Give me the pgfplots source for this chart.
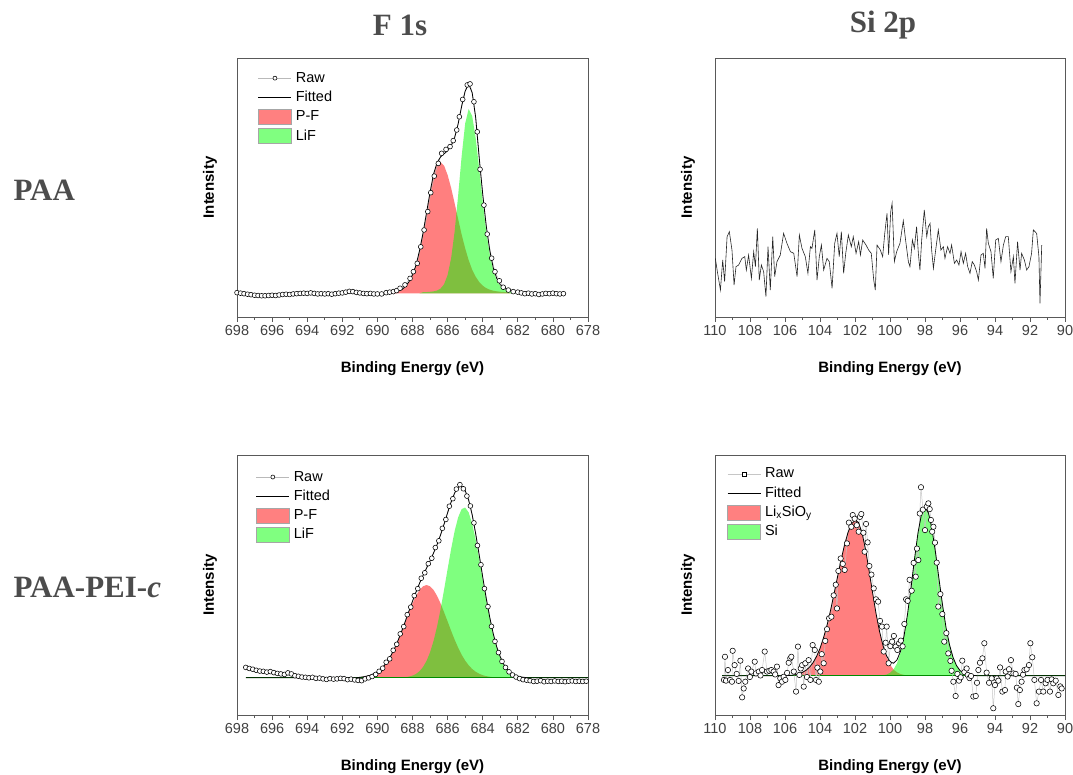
\documentclass[border=0pt]{standalone}
\usepackage{pgfplots}
\pgfplotsset{compat=1.18}
\usepackage{fontspec}
\setmainfont{Liberation Sans}
\newfontfamily\titlefont{Liberation Serif}
\definecolor{axgray}{gray}{0.35}
\definecolor{txtgray}{gray}{0.25}
\definecolor{ttlgray}{gray}{0.3}

\pgfplotsset{
  xpsbase/.style={
    scale only axis, width=351pt, height=259pt,
    x dir=reverse, ymin=0, ymax=100, ytick=\empty,
    axis line style={axgray, line width=0.8pt},
    tick style={axgray, line width=0.8pt},
    tick align=outside, xtick pos=left,
    minor x tick num=1,
    major tick length=5pt, minor tick length=3pt,
    tick label style={font=\fontsize{14.5}{16}\selectfont, text=txtgray},
    /pgf/number format/assume math mode=true,
    /pgf/number format/1000 sep={},
    xlabel={Binding Energy (eV)}, ylabel={Intensity},
    xlabel style={font=\bfseries\fontsize{15}{17}\selectfont, at={(axis description cs:0.5,-0.2)}, anchor=center},
    ylabel style={font=\bfseries\fontsize{15}{17}\selectfont, at={(axis description cs:-0.077,0.5)}, anchor=center},
    legend cell align=left,
    legend style={draw=none, fill=none, inner sep=0pt, outer sep=0pt, row sep=2.3pt,
      font=\fontsize{14.5}{16}\selectfont,
      nodes={inner xsep=4pt, inner ysep=1.5pt, text height=11pt, text depth=3pt}},
  },
  f1s/.style={xpsbase, xmin=678, xmax=698, xtick={678,680,...,698}},
  si2p/.style={xpsbase, xmin=90, xmax=110, xtick={90,92,...,110}},
  rawline/.style={draw=gray!55, line width=0.5pt, mark=*, mark size=2.4pt, mark options={draw=black, fill=white, line width=0.55pt}},
  fitline/.style={black, line width=0.8pt},
  linelegend/.style={legend image code/.code={\draw[##1, mark indices={2}] plot coordinates {(0pt,0pt) (16.5pt,0pt) (33pt,0pt)};}},
  boxlegend/.style={legend image code/.code={\draw[##1] (0pt,-7.5pt) rectangle (33pt,7.5pt);}},
}

\begin{document}
\begin{tikzpicture}
\path[use as bounding box] (0pt,0pt) rectangle (1073pt,774pt);

% ---------------- Top left: F 1s, PAA ----------------
\begin{axis}[f1s, at={(237pt,457pt)}, anchor=south west,
  legend style={at={(axis description cs:0.06,0.955)}, anchor=north west}]
\addplot[forget plot, draw=none, fill=red, fill opacity=0.5] coordinates {
(689.6,9.15) (689.4,9.59) (689.2,9.68) (689.0,9.84) (688.8,10.12) (688.6,10.64) (688.4,11.58) (688.2,13.2)
(688.0,15.82) (687.8,19.75) (687.6,25.25) (687.4,32.05) (687.2,39.95) (687.0,47.95) (686.8,54.75) (686.6,59.05)
(686.45,60.15) (686.2,58.45) (686.0,54.85) (685.8,49.85) (685.6,43.95) (685.4,37.85) (685.2,31.85) (685.0,26.55)
(684.8,21.95) (684.6,18.25) (684.4,15.55) (684.2,13.5) (684.0,12.09) (683.8,11.15) (683.6,10.54) (683.4,10.15)
(683.2,9.91) (683.0,9.76) (682.8,9.66) (682.6,9.59) (682.4,9.15)} -- cycle;
\addplot[forget plot, draw=none, fill=green, fill opacity=0.5] coordinates {
(687.6,9.15) (687.4,9.56) (687.2,9.63) (687.0,9.73) (686.8,9.89) (686.6,10.22) (686.4,10.97) (686.2,12.66)
(686.0,16.19) (685.8,22.65) (685.6,32.95) (685.4,46.85) (685.2,62.05) (685.0,74.65) (684.8,80.35) (684.6,77.65)
(684.4,69.15) (684.2,57.25) (684.0,44.55) (683.8,33.15) (683.6,24.25) (683.4,18.05) (683.2,14.15) (683.0,11.95)
(682.8,10.81) (682.6,10.23) (682.4,9.93) (682.2,9.78) (682.0,9.15)} -- cycle;
\addplot[forget plot, rawline] coordinates {
(698.0,9.4) (697.8,9.2) (697.6,9.0) (697.4,8.8) (697.2,8.6) (697.0,8.4) (696.8,8.3) (696.6,8.2) (696.4,8.2)
(696.2,8.3) (696.0,8.4) (695.8,8.3) (695.6,8.5) (695.4,8.7) (695.2,8.8) (695.0,8.7) (694.8,8.9) (694.6,9.0)
(694.4,9.1) (694.2,9.2) (694.0,9.1) (693.8,9.3) (693.6,9.1) (693.4,8.9) (693.2,9.0) (693.0,8.9) (692.8,9.0)
(692.6,8.8) (692.4,9.0) (692.2,9.2) (692.0,9.3) (691.8,9.6) (691.6,9.9) (691.4,9.8) (691.2,9.5) (691.0,9.3)
(690.8,9.1) (690.6,9.0) (690.4,9.1) (690.2,8.9) (690.0,8.9) (689.76,8.9) (689.5,9.4) (689.3,9.6) (689.09,9.8)
(688.9,10.2) (688.71,11.1) (688.43,12.4) (688.14,14.9) (687.95,17.5) (687.73,20.7) (687.53,27.1) (687.34,33.6)
(687.13,40.7) (686.96,48.0) (686.76,54.4) (686.53,59.3) (686.34,63.2) (686.09,64.7) (685.86,65.8) (685.68,68.1)
(685.48,72.2) (685.33,77.3) (685.14,84.0) (684.88,89.6) (684.72,90.0) (684.50,83.1) (684.31,71.5) (684.15,57.0)
(683.93,43.2) (683.74,32.0) (683.49,22.7) (683.30,17.5) (683.05,14.0) (682.83,11.5) (682.54,10.4) (682.26,9.8)
(682.0,9.6) (681.8,9.3) (681.6,9.0) (681.4,9.2) (681.2,8.9) (681.0,9.0) (680.8,8.7) (680.6,8.9) (680.4,9.1)
(680.2,9.0) (680.0,9.2) (679.8,9.0) (679.6,8.9) (679.4,9.0)};
\addplot[forget plot, fitline] coordinates {
(689.6,9.5) (689.4,9.6) (689.2,9.7) (689.0,9.8) (688.8,10.1) (688.6,10.6) (688.4,11.8) (688.2,13.6) (688.0,16.2)
(687.8,20.0) (687.6,25.6) (687.4,32.4) (687.2,40.3) (687.0,48.2) (686.8,55.2) (686.6,59.6) (686.4,61.8) (686.2,63.0)
(686.0,64.2) (685.8,66.0) (685.6,69.2) (685.4,74.5) (685.2,81.3) (685.0,87.2) (684.8,90.0) (684.6,86.6) (684.4,77.0)
(684.2,61.6) (684.0,47.5) (683.8,35.3) (683.6,25.8) (683.4,19.0) (683.2,14.9) (683.0,12.5) (682.8,11.2) (682.6,10.5)
(682.4,10.0) (682.2,9.7)};
\addlegendimage{linelegend, rawline, mark size=2pt}
\addlegendentry{Raw}
\addlegendimage{linelegend, fitline}
\addlegendentry{Fitted}
\addlegendimage{boxlegend, fill=red!50, draw=gray!70}
\addlegendentry{P-F}
\addlegendimage{boxlegend, fill=green!50, draw=gray!70}
\addlegendentry{LiF}
\end{axis}

% ---------------- Top right: Si 2p, PAA ----------------
\begin{axis}[si2p, width=350pt, at={(715pt,457pt)}, anchor=south west]
\addplot[black!85, line width=0.6pt] coordinates {
(109.98,22.65) (109.88,18.14) (109.69,10.42) (109.56,22.0) (109.45,13.64) (109.31,31.0) (109.18,32.94)
(109.03,25.86) (108.91,12.35) (108.8,19.43) (108.65,20.07) (108.46,22.65) (108.3,23.29) (108.21,18.14)
(108.08,23.93) (107.92,14.92) (107.79,25.22) (107.69,19.43) (107.58,34.23) (107.47,14.28) (107.35,20.07)
(107.22,17.5) (107.09,7.85) (106.97,27.15) (106.84,10.42) (106.7,31.0) (106.59,15.57) (106.46,21.36)
(106.27,23.93) (106.08,32.3) (105.89,28.44) (105.69,25.22) (105.5,24.58) (105.31,15.57) (105.18,31.65)
(105.03,26.5) (104.84,23.29) (104.69,16.86) (104.55,27.15) (104.46,26.5) (104.3,33.59) (104.17,14.28)
(104.04,23.29) (103.92,27.79) (103.79,18.14) (103.6,22.65) (103.47,21.36) (103.31,11.06) (103.16,28.44)
(103.03,32.3) (102.9,23.29) (102.78,32.94) (102.65,16.86) (102.53,24.58) (102.38,31.65) (102.21,27.15)
(102.1,31.0) (101.94,24.58) (101.79,29.08) (101.69,23.93) (101.56,29.72) (101.37,27.79) (101.22,25.86)
(101.07,24.58) (100.93,14.28) (100.84,10.42) (100.74,27.79) (100.55,25.86) (100.42,23.29) (100.3,32.3)
(100.17,40.0) (100.08,24.0) (99.96,40.6) (99.88,43.9) (99.75,21.4) (99.62,25.22) (99.43,28.44) (99.24,37.19)
(99.11,29.72) (98.95,21.36) (98.86,19.43) (98.72,29.72) (98.61,26.51) (98.48,34.87) (98.38,24.58) (98.29,18.14)
(98.19,29.72) (98.04,41.31) (97.9,31.01) (97.81,34.87) (97.71,36.16) (97.62,25.86) (97.52,18.79) (97.39,25.86)
(97.24,33.59) (97.09,25.86) (96.95,27.15) (96.86,22.65) (96.71,27.15) (96.57,24.58) (96.48,27.79) (96.32,20.72)
(96.19,22.0) (96.06,20.07) (95.94,25.22) (95.81,20.72) (95.68,24.58) (95.56,19.43) (95.43,16.86) (95.3,21.36)
(95.18,20.07) (95.05,17.5) (94.95,14.28) (94.8,23.93) (94.67,24.58) (94.57,18.79) (94.48,34.23) (94.38,28.44)
(94.23,25.22) (94.1,14.92) (93.96,29.72) (93.81,30.37) (93.66,21.36) (93.52,27.79) (93.39,31.01) (93.24,31.01)
(93.09,17.5) (92.95,23.29) (92.86,13.0) (92.71,29.08) (92.57,18.14) (92.48,24.58) (92.32,22.0) (92.19,18.14)
(92.06,19.43) (91.91,24.58) (91.81,33.59) (91.62,32.3) (91.49,23.29) (91.43,5.27) (91.33,27.79)};
\end{axis}

% ---------------- Bottom left: F 1s, PAA-PEI-c ----------------
\begin{axis}[f1s, height=260pt, at={(237pt,59pt)}, anchor=south west,
  legend style={at={(axis description cs:0.054,0.948)}, anchor=north west}]
\addplot[forget plot, draw=none, fill=red, fill opacity=0.5] coordinates {
(691.2,14.3) (691.0,14.54) (690.8,14.7) (690.6,14.95) (690.4,15.32) (690.2,15.87) (690.0,16.65) (689.8,17.71)
(689.6,19.13) (689.4,20.94) (689.2,23.2) (689.0,25.9) (688.8,29.0) (688.6,32.4) (688.4,36.0) (688.2,39.5)
(688.0,42.9) (687.8,45.8) (687.6,48.1) (687.4,49.5) (687.2,50.0) (687.0,49.5) (686.8,48.1) (686.6,45.8)
(686.4,42.9) (686.2,39.5) (686.0,36.0) (685.8,32.4) (685.6,29.0) (685.4,25.9) (685.2,23.2) (685.0,20.94)
(684.8,19.13) (684.6,17.71) (684.4,16.65) (684.2,15.87) (684.0,15.32) (683.8,14.95) (683.6,14.7) (683.4,14.54)
(683.2,14.44) (683.0,14.3)} -- cycle;
\addplot[forget plot, draw=none, fill=green, fill opacity=0.5] coordinates {
(688.8,14.3) (688.6,14.42) (688.4,14.54) (688.2,14.76) (688.0,15.15) (687.8,15.8) (687.6,16.85) (687.4,18.45)
(687.2,20.81) (687.0,24.1) (686.8,28.5) (686.6,34.0) (686.4,40.7) (686.2,48.2) (686.0,56.1) (685.8,63.8)
(685.6,70.7) (685.4,76.0) (685.2,79.2) (685.0,79.8) (684.8,77.9) (684.6,73.6) (684.4,67.4) (684.2,60.0)
(684.0,52.1) (683.8,44.3) (683.6,37.2) (683.4,31.1) (683.2,26.1) (683.0,22.33) (682.8,19.52) (682.6,17.57)
(682.4,16.26) (682.2,15.43) (682.0,14.93) (681.8,14.63) (681.6,14.47) (681.4,14.3)} -- cycle;
\addplot[forget plot, green!55!black, line width=0.7pt] coordinates {(697.5,14.3) (678,14.3)};
\addplot[forget plot, rawline] coordinates {
(697.5,18.3) (697.3,17.9) (697.1,17.6) (696.9,17.2) (696.7,16.9) (696.5,16.8) (696.3,16.5) (696.1,16.7)
(695.9,16.3) (695.7,16.0) (695.5,15.8) (695.3,15.6) (695.1,16.2) (694.9,15.8) (694.7,15.1) (694.5,14.9)
(694.3,14.6) (694.1,14.5) (693.9,14.3) (693.7,14.5) (693.5,14.1) (693.3,14.2) (693.1,13.9) (692.9,13.7)
(692.7,14.0) (692.5,13.8) (692.3,13.9) (692.1,14.1) (691.9,14.0) (691.7,13.6) (691.5,13.8) (691.3,13.5)
(691.1,13.3) (690.9,13.2) (690.7,13.9) (690.5,14.3) (690.3,14.8) (690.1,15.6) (689.9,16.8)
(689.7,18.0) (689.5,20.3) (689.3,21.6) (689.1,24.9) (688.9,27.2) (688.7,31.2) (688.5,34.0) (688.3,38.6)
(688.1,41.5) (687.9,45.9) (687.7,48.6) (687.5,52.6) (687.3,54.7) (687.1,58.2) (686.9,60.3) (686.7,64.4)
(686.5,67.0) (686.3,71.8) (686.1,75.2) (685.9,80.3) (685.7,83.2) (685.5,86.9) (685.3,88.6) (685.1,87.0)
(684.9,84.2) (684.7,80.4) (684.5,73.9) (684.3,65.2) (684.1,57.8) (683.9,48.6) (683.7,41.7) (683.5,34.1)
(683.3,28.3) (683.1,24.0) (682.9,20.6) (682.7,18.3) (682.5,16.6) (682.3,15.4) (682.1,14.6) (681.9,14.0)
(681.7,13.6) (681.5,13.4) (681.3,13.2) (681.1,12.9) (680.9,13.0) (680.7,13.2) (680.5,12.8) (680.3,13.0)
(680.1,12.9) (679.9,13.1) (679.7,12.9) (679.5,13.0) (679.3,12.8) (679.1,13.0) (678.9,13.1) (678.7,12.9)
(678.5,13.0) (678.3,12.9) (678.1,13.0)};
\addplot[forget plot, fitline] coordinates {
(697.5,14.3) (691.2,14.3) (691.0,14.5) (690.8,14.7) (690.6,14.95) (690.4,15.3) (690.2,15.9) (690.0,16.65)
(689.8,17.7) (689.6,19.1) (689.4,20.9) (689.2,23.2) (689.0,25.9) (688.8,29.05) (688.6,32.5) (688.4,36.2)
(688.2,40.0) (688.0,43.75) (687.8,47.3) (687.6,50.65) (687.4,53.65) (687.2,56.5) (687.0,59.3) (686.8,62.3)
(686.6,65.5) (686.4,69.3) (686.2,73.4) (686.0,77.8) (685.8,81.9) (685.6,85.4) (685.4,87.6) (685.2,88.1)
(685.0,86.4) (684.8,82.7) (684.6,77.0) (684.4,69.75) (684.2,61.6) (684.0,53.1) (683.8,44.95) (683.6,37.6)
(683.4,31.3) (683.2,26.2) (683.0,22.4) (682.8,19.5) (682.6,17.6) (682.4,16.3) (682.2,15.4) (682.0,14.9)
(681.8,14.6) (681.6,14.45) (681.4,14.3) (678.0,14.3)};
\addlegendimage{linelegend, rawline, mark size=2pt}
\addlegendentry{Raw}
\addlegendimage{linelegend, fitline}
\addlegendentry{Fitted}
\addlegendimage{boxlegend, fill=red!50, draw=gray!70}
\addlegendentry{P-F}
\addlegendimage{boxlegend, fill=green!50, draw=gray!70}
\addlegendentry{LiF}
\end{axis}

% ---------------- Bottom right: Si 2p, PAA-PEI-c ----------------
\begin{axis}[si2p, width=350pt, height=260pt, at={(715pt,59pt)}, anchor=south west,
  legend style={at={(axis description cs:0.035,0.96)}, anchor=north west}]
\addplot[forget plot, draw=none, fill=red, fill opacity=0.5] coordinates {
(106.2,15.1) (106.0,15.17) (105.8,15.23) (105.6,15.34) (105.4,15.54) (105.2,15.86) (105.0,16.39) (104.8,17.19)
(104.6,18.4) (104.4,20.1) (104.2,22.5) (104.0,25.6) (103.8,29.7) (103.6,34.5) (103.4,40.2) (103.2,46.5)
(103.0,53.1) (102.8,59.5) (102.6,65.4) (102.4,70.2) (102.2,73.5) (102.0,74.9) (101.8,74.1) (101.6,70.1)
(101.4,63.7) (101.2,55.7) (101.0,47.2) (100.8,39.1) (100.6,32.1) (100.4,26.5) (100.2,22.3) (100.0,19.4)
(99.8,17.5) (99.6,16.4) (99.4,15.77) (99.2,15.42) (99.0,15.25) (98.8,15.16) (98.6,15.1)} -- cycle;
\addplot[forget plot, draw=none, fill=green, fill opacity=0.5] coordinates {
(100.8,15.1) (100.6,15.16) (100.4,15.28) (100.2,15.56) (100.0,16.2) (99.8,17.48) (99.6,19.86) (99.4,23.87)
(99.2,30.0) (99.0,38.5) (98.8,48.8) (98.6,60.0) (98.4,70.1) (98.2,77.3) (98.0,79.9) (97.8,77.7) (97.6,71.5)
(97.4,62.5) (97.2,52.3) (97.0,42.4) (96.8,33.7) (96.6,27.0) (96.4,22.16) (96.2,19.02) (96.0,17.13) (95.8,16.08)
(95.6,15.54) (95.4,15.29) (95.2,15.17) (95.0,15.1)} -- cycle;
\addplot[forget plot, green!55!black, line width=0.7pt] coordinates {(109.6,15.1) (90,15.1)};
\addplot[forget plot, rawline, draw=gray!45, mark size=2.7pt] coordinates {
(109.49,13.5) (109.43,22.4) (109.37,13.2) (109.26,17.3) (109.14,13.5) (109.03,12.8) (108.99,24.7) (108.88,19.2)
(108.76,15.8) (108.65,13.1) (108.55,20.9) (108.45,6.8) (108.36,10.2) (108.27,12.8) (108.11,17.9) (108.01,14.6)
(107.92,16.7) (107.73,20.5) (107.66,16.0) (107.5,16.7) (107.4,15.2) (107.31,17.3) (107.16,24.4) (107.03,16.7)
(106.9,17.0) (106.78,17.3) (106.65,16.7) (106.56,15.6) (106.46,18.6) (106.37,11.5) (106.27,14.1) (106.17,12.8)
(106.08,14.7) (105.98,13.5) (105.88,16.2) (105.79,20.1) (105.7,21.8) (105.64,22.4) (105.5,16.7) (105.37,9.0)
(105.26,26.3) (105.18,15.4) (105.1,17.9) (105.02,19.2) (104.93,10.9) (104.84,19.9) (104.75,14.6) (104.65,21.1)
(104.55,13.5) (104.42,26.9) (104.3,25.0) (104.23,13.5) (104.15,18.2) (104.07,12.8) (103.98,16.7) (103.9,23.4)
(103.79,19.9) (103.7,28.5) (103.6,33.0) (103.48,37.2) (103.35,37.8) (103.22,46.0) (103.1,50.1) (103.03,41.0)
(102.95,55.4) (102.82,60.2) (102.7,58.1) (102.59,55.8) (102.46,66.0) (102.35,74.0) (102.21,72.4) (102.13,76.9)
(102.02,75.5) (101.9,73.0) (101.79,70.5) (101.72,76.2) (101.64,77.3) (101.52,70.1) (101.45,62.8) (101.37,73.5)
(101.28,66.4) (101.18,57.3) (101.06,54.0) (100.93,48.7) (100.8,44.5) (100.68,43.6) (100.57,36.2) (100.46,34.0)
(100.36,24.4) (100.25,27.8) (100.19,34.0) (100.08,19.9) (99.98,26.5) (99.88,28.2) (99.78,30.4) (99.68,26.3)
(99.58,25.0) (99.48,27.6) (99.38,28.6) (99.28,26.4) (99.18,35.0) (99.08,44.5) (98.99,43.9) (98.88,52.0)
(98.76,47.8) (98.65,58.5) (98.53,53.2) (98.46,64.0) (98.38,59.6) (98.3,77.5) (98.23,87.6) (98.12,79.0)
(98.0,71.1) (97.9,80.1) (97.81,81.4) (97.73,79.2) (97.66,75.0) (97.59,70.5) (97.52,72.4) (97.43,66.3)
(97.33,58.6) (97.24,41.7) (97.12,46.5) (97.01,38.8) (96.9,28.2) (96.78,31.5) (96.67,23.7) (96.55,20.8)
(96.48,17.0) (96.38,12.8) (96.25,7.3) (96.15,15.8) (96.06,13.2) (95.96,14.5) (95.87,20.9) (95.75,16.5)
(95.62,17.9) (95.56,15.4) (95.46,14.2) (95.37,15.0) (95.24,7.1) (95.1,7.3) (95.03,12.4) (94.95,17.3)
(94.86,20.1) (94.72,21.8) (94.61,27.6) (94.48,16.3) (94.34,12.4) (94.19,14.1) (94.1,2.6) (94.0,11.5)
(93.9,14.1) (93.81,13.2) (93.71,18.3) (93.58,9.0) (93.43,9.6) (93.39,16.7) (93.28,14.8) (93.2,17.6)
(93.09,21.1) (92.95,16.0) (92.82,15.8) (92.75,10.5) (92.67,4.2) (92.58,9.6) (92.48,12.8) (92.4,15.5)
(92.32,17.3) (92.19,17.6) (92.06,19.2) (91.98,27.6) (91.87,22.2) (91.75,13.5) (91.62,4.5) (91.49,9.0)
(91.37,13.5) (91.24,9.0) (91.11,12.2) (91.0,13.5) (90.86,9.0) (90.76,13.7) (90.67,12.2) (90.53,13.2)
(90.38,7.7) (90.27,11.0) (90.19,10.2)};
\addplot[forget plot, fitline] coordinates {
(109.6,15.1) (106.2,15.1) (106.0,15.2) (105.8,15.2) (105.6,15.3) (105.4,15.5) (105.2,15.9) (105.0,16.4)
(104.8,17.2) (104.6,18.4) (104.4,20.1) (104.2,22.5) (104.0,25.6) (103.8,29.7) (103.6,34.5) (103.4,40.2)
(103.2,46.5) (103.0,53.1) (102.8,59.5) (102.6,65.4) (102.4,70.2) (102.2,73.5) (102.0,74.9) (101.8,74.1)
(101.6,70.1) (101.4,63.7) (101.2,55.7) (101.0,47.2) (100.8,39.1) (100.6,32.2) (100.4,26.7) (100.2,22.8)
(100.0,20.5) (99.8,19.9) (99.6,21.2) (99.4,24.5) (99.2,30.3) (99.0,38.7) (98.8,48.9) (98.6,60.0) (98.4,70.1)
(98.2,77.3) (98.0,79.9) (97.8,77.7) (97.6,71.5) (97.4,62.5) (97.2,52.3) (97.0,42.4) (96.8,33.7) (96.6,27.0)
(96.4,22.2) (96.2,19.0) (96.0,17.1) (95.8,16.1) (95.6,15.5) (95.4,15.3) (95.2,15.2) (95.0,15.1) (90.0,15.1)};
\addlegendimage{linelegend, rawline, draw=gray!45, mark=square*, mark size=2pt}
\addlegendentry{Raw}
\addlegendimage{linelegend, fitline}
\addlegendentry{Fitted}
\addlegendimage{boxlegend, fill=red!50, draw=gray!70}
\addlegendentry{Li\textsubscript{x}SiO\textsubscript{y}}
\addlegendimage{boxlegend, fill=green!50, draw=gray!70}
\addlegendentry{Si}
\end{axis}

% ---------------- Titles and row labels ----------------
\node[font=\titlefont\bfseries\fontsize{31}{36}\selectfont, text=ttlgray] at (400pt,749pt) {F 1s};
\node[font=\titlefont\bfseries\fontsize{31}{36}\selectfont, text=ttlgray] at (883pt,749pt) {Si 2p};
\node[anchor=west, font=\titlefont\bfseries\fontsize{31}{36}\selectfont, text=ttlgray] at (10pt,584pt) {PAA};
\node[anchor=west, font=\titlefont\bfseries\fontsize{31}{36}\selectfont, text=ttlgray] at (10pt,187pt) {PAA-PEI-\textit{c}};
\end{tikzpicture}
\end{document}
